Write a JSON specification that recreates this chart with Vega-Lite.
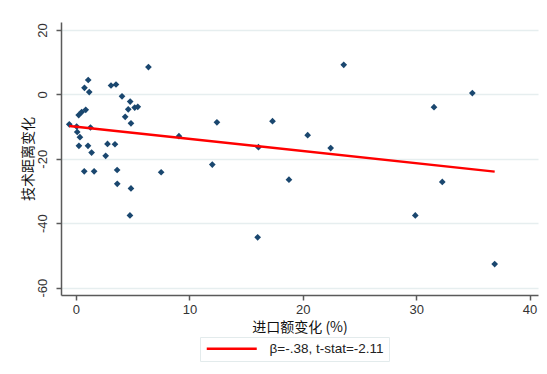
{
  "$schema": "https://vega.github.io/schema/vega-lite/v6.json",
  "autosize": {"type": "none"},
  "width": 477,
  "height": 273,
  "padding": {"left": 61, "top": 22, "right": 9, "bottom": 79},
  "background": "white",
  "config": {
    "view": {"stroke": null},
    "font": "Liberation Sans",
    "axis": {
      "labelFont": "Liberation Sans",
      "labelFontSize": 13,
      "labelColor": "#333333",
      "labelExpr": "toString(datum.value)",
      "domainColor": "#5a5a5a",
      "domainWidth": 1.5,
      "tickColor": "#5a5a5a",
      "tickWidth": 1.5,
      "tickSize": 5,
      "titleFont": "Noto Sans CJK SC",
      "titleFontSize": 14,
      "titleFontWeight": "normal",
      "titleColor": "#111111"
    }
  },
  "layer": [
    {
      "data": {
        "values": [
          {"x": -0.59, "y": -9.33},
          {"x": 0.06, "y": -10.0},
          {"x": 0.11, "y": -11.7},
          {"x": 0.35, "y": -13.3},
          {"x": 0.26, "y": -16.0},
          {"x": 1.06, "y": -16.0},
          {"x": 1.38, "y": -18.1},
          {"x": 0.73, "y": -23.9},
          {"x": 1.6, "y": -23.9},
          {"x": 2.62, "y": -19.1},
          {"x": 2.78, "y": -15.4},
          {"x": 3.44, "y": -15.5},
          {"x": 3.63, "y": -23.5},
          {"x": 3.64, "y": -27.8},
          {"x": 4.85, "y": -29.2},
          {"x": 4.76, "y": -37.6},
          {"x": 1.28, "y": -10.3},
          {"x": 6.39, "y": 8.46},
          {"x": 1.08, "y": 4.45},
          {"x": 0.75, "y": 2.0},
          {"x": 1.17, "y": 0.7},
          {"x": 3.09, "y": 2.74},
          {"x": 3.53, "y": 3.05},
          {"x": 4.06, "y": -0.62},
          {"x": 4.78, "y": -2.24},
          {"x": 4.61, "y": -4.66},
          {"x": 5.18, "y": -4.1},
          {"x": 5.45, "y": -3.89},
          {"x": 4.34, "y": -7.0},
          {"x": 4.85, "y": -9.0},
          {"x": 0.24, "y": -6.44},
          {"x": 0.5, "y": -5.5},
          {"x": 0.86, "y": -4.82},
          {"x": 7.51, "y": -24.2},
          {"x": 9.08, "y": -13.0},
          {"x": 12.02, "y": -21.8},
          {"x": 12.43, "y": -8.7},
          {"x": 17.33, "y": -8.33},
          {"x": 16.09, "y": -16.4},
          {"x": 16.02, "y": -44.4},
          {"x": 23.61, "y": 9.17},
          {"x": 20.43, "y": -12.7},
          {"x": 22.46, "y": -16.7},
          {"x": 18.78, "y": -26.5},
          {"x": 31.57, "y": -3.98},
          {"x": 34.95, "y": 0.37},
          {"x": 32.3, "y": -27.2},
          {"x": 29.92, "y": -37.6},
          {"x": 36.92, "y": -52.7}
        ]
      },
      "mark": {"type": "point", "shape": "diamond", "filled": true, "size": 45, "color": "#1a476f", "opacity": 1},
      "encoding": {
        "x": {
          "field": "x", "type": "quantitative",
          "scale": {"domain": [-1.32, 40.74], "nice": false, "zero": false},
          "axis": {"values": [0, 10, 20, 30, 40], "grid": false, "title": "进口额变化 (%)", "labelPadding": 3, "titlePadding": 4}
        },
        "y": {
          "field": "y", "type": "quantitative",
          "scale": {"domain": [-62.3, 22.45], "nice": false, "zero": false},
          "axis": {"values": [-60, -40, -20, 0, 20], "grid": true, "gridColor": "#e6eeef", "gridWidth": 1.5, "labelAngle": -90, "labelPadding": 7, "title": "技术距离变化", "titlePadding": 1}
        }
      }
    },
    {
      "data": {
        "values": [
          {"x": -0.59, "y": -9.85, "label": "β=-.38, t-stat=-2.11"},
          {"x": 36.92, "y": -24.0, "label": "β=-.38, t-stat=-2.11"}
        ]
      },
      "mark": {"type": "line", "strokeWidth": 2.5},
      "encoding": {
        "x": {"field": "x", "type": "quantitative"},
        "y": {"field": "y", "type": "quantitative"},
        "color": {
          "field": "label", "type": "nominal",
          "scale": {"range": ["#ff0000"]},
          "legend": {
            "title": null,
            "orient": "none",
            "legendX": 139,
            "legendY": 315,
            "symbolType": "M-1,0H9",
            "symbolSize": 100,
            "symbolStrokeWidth": 2.5,
            "labelOffset": 51,
            "labelFont": "Liberation Sans",
            "labelFontSize": 13.5,
            "labelColor": "#222222",
            "strokeColor": "#e3ebec",
            "fillColor": "white",
            "padding": 5
          }
        }
      }
    }
  ]
}
